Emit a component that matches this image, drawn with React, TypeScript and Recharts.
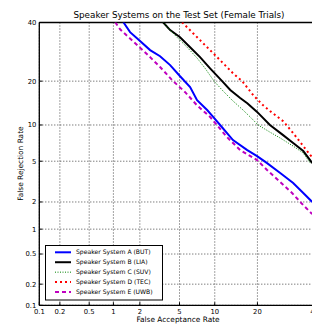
import React from "react";
import { LineChart, Line, XAxis, YAxis, CartesianGrid, ReferenceLine } from "recharts";

// ---- data (percent) ----
const tickLabels = ["0.1", "0.2", "0.5", "1", "2", "5", "10", "20", "40"];
const tickValues = [0.1, 0.2, 0.5, 1, 2, 5, 10, 20, 40];

const seriesNames = [
  "Speaker System A (BUT)",
  "Speaker System B (LIA)",
  "Speaker System C (SUV)",
  "Speaker System D (TEC)",
  "Speaker System E (UWB)",
];

const faA = [1.31, 1.56, 2.01, 2.57, 3.25, 4.08, 5.06, 6.23, 7.16, 8.69, 9.71, 11.0, 13.7, 17.2, 19.9, 22.9, 27.2, 31.8, 35.6, 39.1];
const frA = [40.1, 36.3, 33.0, 29.8, 27.7, 24.8, 21.4, 18.4, 15.1, 12.9, 11.5, 10.0, 7.59, 6.26, 5.55, 4.81, 3.89, 3.12, 2.48, 2.0];

const faB = [3.48, 4.08, 5.06, 6.23, 7.59, 9.18, 11.4, 13.1, 15.4, 17.2, 19.9, 23.8, 28.2, 31.8, 35.6, 39.1];
const frB = [40.1, 37.1, 34.4, 30.8, 27.4, 23.8, 20.0, 17.6, 15.6, 14.4, 12.5, 10.0, 8.33, 7.18, 6.14, 4.81];

const faC = [3.48, 4.08, 4.74, 5.86, 7.16, 8.36, 9.88, 11.4, 13.5, 16.1, 17.96, 20.2, 23.8, 27.2, 31.8, 35.6, 38.3];
const frC = [40.1, 37.1, 34.4, 30.8, 27.1, 23.8, 20.0, 17.6, 15.1, 12.9, 11.5, 10.0, 8.8, 7.89, 6.77, 5.9, 4.81];

const faD = [5.28, 6.62, 8.69, 11.0, 13.7, 15.9, 18.8, 21.7, 23.8, 28.2, 31.8, 35.6, 38.3, 39.5];
const frD = [40.1, 35.9, 30.8, 26.4, 22.3, 20.0, 16.3, 13.9, 12.7, 10.7, 8.65, 6.77, 5.67, 5.33];

const faE = [1.05, 1.2, 1.68, 2.39, 3.25, 4.26, 5.63, 7.16, 9.18, 12.4, 15.4, 19.9, 22.9, 27.2, 31.4, 35.2, 39.1];
const frE = [40.1, 37.4, 33.0, 28.4, 24.2, 20.3, 17.05, 13.9, 11.5, 8.03, 6.26, 5.12, 4.15, 3.19, 2.48, 1.9, 1.48];

// ---- probit (normal deviate) transform ----
function probit(p: number): number {
  const a = [-3.969683028665376e1, 2.209460984245205e2, -2.759285104469687e2, 1.38357751867269e2, -3.066479806614716e1, 2.506628277459239];
  const b = [-5.447609879822406e1, 1.615858368580409e2, -1.556989798598866e2, 6.680131188771972e1, -1.328068155288572e1];
  const c = [-7.784894002430293e-3, -3.223964580411365e-1, -2.400758277161838, -2.549732539343734, 4.374664141464968, 2.938163982698783];
  const d = [7.784695709041462e-3, 3.224671290700398e-1, 2.445134137142996, 3.754408661907416];
  const plow = 0.02425;
  const phigh = 1 - plow;
  if (p < plow) {
    const q = Math.sqrt(-2 * Math.log(p));
    return (((((c[0] * q + c[1]) * q + c[2]) * q + c[3]) * q + c[4]) * q + c[5]) / ((((d[0] * q + d[1]) * q + d[2]) * q + d[3]) * q + 1);
  }
  if (p <= phigh) {
    const q = p - 0.5;
    const r = q * q;
    return ((((((a[0] * r + a[1]) * r + a[2]) * r + a[3]) * r + a[4]) * r + a[5]) * q) / (((((b[0] * r + b[1]) * r + b[2]) * r + b[3]) * r + b[4]) * r + 1);
  }
  const q = Math.sqrt(-2 * Math.log(1 - p));
  return -(((((c[0] * q + c[1]) * q + c[2]) * q + c[3]) * q + c[4]) * q + c[5]) / ((((d[0] * q + d[1]) * q + d[2]) * q + d[3]) * q + 1);
}

const toPts = (fa: number[], fr: number[]) => fa.map((v, i) => ({ x: probit(v / 100), y: probit(fr[i] / 100) }));

const ticksZ = tickValues.map((v) => probit(v / 100));
const zMin = ticksZ[0];
const zMax = ticksZ[ticksZ.length - 1];

const labelFor = (z: number) => {
  let best = 0;
  let bd = Infinity;
  ticksZ.forEach((t, i) => {
    const dd = Math.abs(t - z);
    if (dd < bd) {
      bd = dd;
      best = i;
    }
  });
  return tickLabels[best];
};

const series = [
  { name: seriesNames[0], data: toPts(faA, frA), color: "#0000ff", width: 2, dash: undefined as string | undefined },
  { name: seriesNames[1], data: toPts(faB, frB), color: "#000000", width: 2, dash: undefined as string | undefined },
  { name: seriesNames[2], data: toPts(faC, frC), color: "#008000", width: 1, dash: "1 1.5" },
  { name: seriesNames[3], data: toPts(faD, frD), color: "#ff0000", width: 2, dash: "2 3" },
  { name: seriesNames[4], data: toPts(faE, frE), color: "#bf00bf", width: 2, dash: "4 3" },
];

const FONT = "DejaVu Sans";

const XTick = (props: any) => {
  const { x, y, payload } = props;
  return (
    <g>
      <line x1={x} x2={x} y1={y} y2={y - 3} stroke="#000" strokeWidth={1} />
      <text x={x} y={y + 8.3} textAnchor="middle" fontSize={6.8} fontFamily={FONT} fill="#000">
        {labelFor(payload.value)}
      </text>
    </g>
  );
};

const YTick = (props: any) => {
  const { x, y, payload } = props;
  return (
    <g>
      <line x1={x} x2={x + 3} y1={y} y2={y} stroke="#000" strokeWidth={1} />
      <text x={x - 3} y={y} dy="0.35em" textAnchor="end" fontSize={6.8} fontFamily={FONT} fill="#000">
        {labelFor(payload.value)}
      </text>
    </g>
  );
};

export default function App() {
  return (
    <div style={{ position: "fixed", left: 0, top: 0, width: 312, height: 324, overflow: "hidden", background: "#fff" }}>
      <div style={{ position: "absolute", left: 0, top: 0 }}>
        <LineChart width={330} height={324} margin={{ top: 22.5, right: 15.5, left: 0, bottom: 0 }}>
          <CartesianGrid stroke="#333" strokeDasharray="1 2" strokeWidth={0.9} />
          <XAxis
            type="number"
            dataKey="x"
            domain={[zMin, zMax]}
            ticks={ticksZ}
            allowDataOverflow
            interval={0}
            height={18.7}
            tickSize={0}
            tickMargin={0}
            tickLine={false}
            tick={<XTick />}
            axisLine={{ stroke: "#000", strokeWidth: 1.3 }}
          />
          <YAxis
            type="number"
            dataKey="y"
            domain={[zMin, zMax]}
            ticks={ticksZ}
            allowDataOverflow
            interval={0}
            width={39.3}
            tickSize={0}
            tickMargin={0}
            tickLine={false}
            tick={<YTick />}
            axisLine={{ stroke: "#000", strokeWidth: 1.3 }}
          />
          <ReferenceLine y={zMax} stroke="#000" strokeWidth={1.3} />
          {series.map((s) => (
            <Line
              key={s.name}
              data={s.data}
              dataKey="y"
              name={s.name}
              type="linear"
              stroke={s.color}
              strokeWidth={s.width}
              strokeDasharray={s.dash}
              dot={false}
              activeDot={false}
              isAnimationActive={false}
            />
          ))}
        </LineChart>
      </div>
      <svg width={312} height={324} style={{ position: "absolute", left: 0, top: 0, pointerEvents: "none" }}>
        <text x={179} y={18} textAnchor="middle" fontSize={8.8} fontFamily={FONT} fill="#000">
          Speaker Systems on the Test Set (Female Trials)
        </text>
        <text x={178} y={322.3} textAnchor="middle" fontSize={7.4} fontFamily={FONT} fill="#000">
          False Acceptance Rate
        </text>
        <text x={23} y={163.6} textAnchor="middle" fontSize={7.4} fontFamily={FONT} fill="#000" transform="rotate(-90 23 163.6)">
          False Rejection Rate
        </text>
        <rect x={45.5} y={245.5} width={117} height={54.5} fill="#fff" stroke="#000" strokeWidth={1} />
        {series.map((s, i) => {
          const yy = 252.3 + i * 9.93;
          return (
            <g key={s.name}>
              <line x1={55} x2={71} y1={yy} y2={yy} stroke={s.color} strokeWidth={s.width} strokeDasharray={s.dash} />
              <text x={76} y={yy} dy="0.35em" fontSize={6.1} fontFamily={FONT} fill="#000">
                {s.name}
              </text>
            </g>
          );
        })}
      </svg>
    </div>
  );
}
